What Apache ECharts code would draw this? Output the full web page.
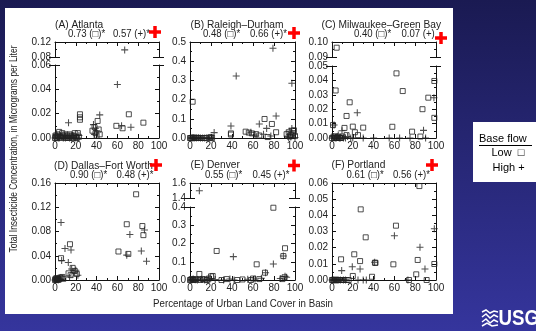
<!DOCTYPE html>
<html><head><meta charset="utf-8">
<script src="https://cdn.jsdelivr.net/npm/echarts@6/dist/echarts.min.js"></script>
<style>html,body{margin:0;padding:0;background:#1b1b56;}#c{width:536px;height:331px;}</style>
</head><body><div id="c"></div>
<script>
// ---------------- DATA ----------------
const xTicks = [0, 20, 40, 60, 80, 100];
const panelTitles = ['(A) Atlanta', '(B) Raleigh\u2013Durham', '(C) Milwaukee\u2013Green Bay', '(D) Dallas\u2013Fort Worth', '(E) Denver', '(F) Portland'];
const lowCoef = ['0.73 (\u25a1)*', '0.48 (\u25a1)*', '0.40 (\u25a1)*', '0.90 (\u25a1)*', '0.55 (\u25a1)*', '0.61 (\u25a1)*'];
const highCoef = ['0.57 (+)*', '0.66 (+)*', '0.07 (+)', '0.48 (+)*', '0.45 (+)*', '0.56 (+)*'];
const xTitle = 'Percentage of Urban Land Cover in Basin';
const yTitle = 'Total Insecticide Concentration, in Micrograms per Liter';

// y ranges per panel: [min, max, interval] for lower segment and optional upper segment
const yLower = [[0, 0.06, 0.02], [0, 0.5, 0.1], [0, 0.05, 0.01], [0, 0.16, 0.04], [0, 0.4, 0.1], [0, 0.06, 0.01]];
const yUpper = [[0.08, 0.12, 0.04], null, [0.09, 0.10, 0.01], null, [1.4, 1.6, 0.2], null];
const yDecimals = [2, 1, 2, 2, 1, 2];

const atlantaLow = [[0,0],[0.5,0.002],[1,0.001],[2,0],[2.5,0.003],[3,0.002],[4,0.005],[5,0.001],[6,0],[7,0.004],[8,0.002],[9,0.001],[10,0.003],[11,0],[12,0.002],[13,0],[14,0.003],[15,0.001],[16,0.002],[17,0],[18,0.002],[19,0.004],[20,0.001],[21,0],[22,0.004],[23,0.001],[24,0.0195],[24,0.017],[24,0.015],[36,0.006],[38,0.009],[39,0.004],[40,0.002],[41,0.014],[42,0.007],[43,0.003],[59,0.010],[65,0.008],[71,0.0195],[85,0.0126]];
const atlantaHigh = [[0,0],[1,0.003],[2,0.001],[3,0],[4,0],[5,0.002],[6,0.001],[8,0],[9,0.002],[10,0],[12,0.001],[13,0.0126],[14,0],[16,0],[17,0.002],[18,0.001],[20,0],[22,0],[23,0.002],[37,0.011],[38,0.003],[39,0.008],[40,0.006],[43,0.019],[60,0.044],[64,0.010],[67,0.099],[73,0.0088]];
const raleighLow = [[0,0],[1,0],[2,0.001],[2.5,0.189],[3,0],[4,0.002],[5,0],[6,0],[7,0.001],[8,0],[9,0],[11,0],[13,0],[15,0],[19,0.002],[20,0.004],[21,0],[39,0.024],[39,0.018],[53,0.033],[56,0.028],[59,0.024],[63,0.02],[66,0.013],[71,0.099],[74,0.005],[78,0.073],[82,0.03],[92,0.02],[94,0.03],[95,0.008],[96,0.015],[98,0.025],[99,0.04],[100,0.01]];
const raleighHigh = [[1,0],[2,0],[3,0.001],[4,0],[6,0],[8,0.001],[10,0],[12,0],[14,0],[16,0.001],[18,0],[20,0.001],[23,0.028],[39,0.062],[44,0.323],[58,0.03],[62,0.015],[66,0.073],[70,0.02],[73,0.05],[77,0.01],[79,0.467],[82,0.115],[93,0.01],[94,0.002],[95,0.035],[96,0.005],[97,0.05],[97,0.285],[99,0.02],[100,0.003]];
const milwaukeeLow = [[0,0],[1,0.009],[1.5,0.001],[2,0],[3,0.001],[3.5,0.033],[4,0],[4.5,0.0962],[5,0],[6,0.001],[7,0],[8,0],[9,0],[10,0.001],[12,0.007],[14,0.0153],[14,0.002],[17,0.0248],[20,0.0079],[22,0.004],[25,0.002],[30,0.0072],[58,0.0078],[62,0.0449],[68,0.0326],[77,0.0044],[85,0.001],[87,0.020],[92.6,0.028],[98.4,0.0396],[98.4,0.014]];
const milwaukeeHigh = [[0,0],[1,0.001],[2,0.009],[3,0],[4,0],[5,0.001],[6,0.002],[7,0],[8,0],[9.6,0.005],[11,0],[13,0],[15,0.001],[18,0],[20,0],[24.3,0.0176],[30,0],[40,0],[55,0],[65,0],[75,0],[88,0.0053],[90,0],[98,0.028]];
const dallasLow = [[0,0],[0.5,0.002],[1,0.001],[1.5,0.003],[2,0],[2.5,0.001],[3,0.002],[4,0.001],[5,0.004],[5.8,0.036],[6,0.003],[7,0.005],[8,0.002],[13,0.011],[14.4,0.059],[15,0.008],[17,0.02],[19,0.015],[21,0.01],[61,0.047],[69,0.092],[70.5,0.043],[78,0.1414],[84,0.089],[85,0.074]];
const dallasHigh = [[0,0],[1,0.002],[2,0.001],[3,0],[4,0.003],[5,0.001],[5.8,0.095],[6.4,0.032],[9.6,0.052],[12.8,0.029],[14,0.005],[15.4,0.0495],[16,0.018],[18,0.012],[20,0.016],[22,0.008],[69,0.041],[72,0.075],[83,0.048],[86,0.0825],[88,0.031]];
const denverLow = [[0,0],[1,0.003],[2,0.005],[3,0],[4,0],[5,0.004],[6,0.003],[8.9,0.033],[10,0],[12,0.005],[14,0.003],[16,0],[18,0.008],[20,0.02],[21.6,0.022],[25.4,0.159],[30,0],[35,0.005],[45,0],[50,0.003],[58,0],[60,0.008],[63.5,0.086],[66,0.005],[71.4,0.04],[79.4,0.396],[88,0.005],[88.9,0.131],[90,0.015],[90.5,0.174]];
const denverHigh = [[1,0],[2,0.002],[3,0.005],[5,0.002],[7,0],[8.9,1.497],[11,0.004],[14,0],[17,0.002],[19,0.005],[24,0.003],[32,0],[38,0.005],[41.3,0.128],[42,0],[55,0.004],[62,0.006],[68,0.01],[72,0.04],[79.4,0.088],[86,0.008],[88.9,0.131],[90.5,0.02],[92,0.015]];
const portlandLow = [[0,0],[1,0],[2,0],[3,0],[4,0],[5,0],[6,0],[7,0],[8.7,0.0128],[9,0],[10,0],[12,0],[14,0],[16,0],[20,0.0025],[21.4,0.0159],[27,0.0117],[27.6,0.0437],[32.4,0.0264],[38.5,0.002],[41.3,0.0107],[41.8,0.0106],[59,0.0097],[61.5,0.0336],[74,0],[81,0.0035],[82.4,0.0124],[84,0.0581],[91,0],[98.4,0.0099]];
const portlandHigh = [[0,0],[1.5,0],[2,0],[3,0],[4,0],[5,0],[6,0],[8,0],[9.3,0.0058],[11,0],[13,0],[19.5,0.0082],[25,0],[27,0.0068],[30,0],[33,0],[41,0.011],[60,0.0274],[73,0],[84.6,0.0202],[89.4,0.0068],[98.4,0.0317]];

const lowSets = [atlantaLow, raleighLow, milwaukeeLow, dallasLow, denverLow, portlandLow];
const highSets = [atlantaHigh, raleighHigh, milwaukeeHigh, dallasHigh, denverHigh, portlandHigh];

// ---------------- LAYOUT ----------------
const FONT = "'Liberation Sans',Arial,sans-serif";
const TXT = '#222';
const boxes = [
  {x: 55, w: 104, lo: [65, 138], up: [42, 57], title: [55, 25], coef: [68, 113, 34], cross: [155, 32]},
  {x: 190, w: 105, lo: [42, 138], up: null, title: [190.5, 25], coef: [203, 250, 34], cross: [294, 33]},
  {x: 332, w: 104, lo: [66, 138], up: [42, 57], title: [321.5, 25], coef: [354, 401.5, 34], cross: [441, 38]},
  {x: 55, w: 104, lo: [183, 280], up: null, title: [54, 165.5], coef: [70, 116.5, 175], cross: [156, 165]},
  {x: 190, w: 105, lo: [207, 280], up: [183, 198], title: [190.5, 165], coef: [205, 252.5, 175], cross: [294, 165.5]},
  {x: 332, w: 104, lo: [183, 280], up: null, title: [331.5, 165], coef: [346.5, 393, 175], cross: [432, 165]}
];

const mctx = document.createElement('canvas').getContext('2d');
function fitScale(text, font, target) {
  mctx.font = font;
  const w = mctx.measureText(text).width;
  return w > 0 ? target / w : 1;
}
const TITLE_FONT = '11px ' + FONT, COEF_FONT = '10px ' + FONT;
const titleScale = fitScale(panelTitles[1], TITLE_FONT, 93);
const coefScale = fitScale(highCoef[1], COEF_FONT, 37);
function txt(text, x, y, font, s, opts) {
  return Object.assign({type: 'text', x: x, y: y, scaleX: s, z: 5, silent: true,
    style: {text: text, fill: TXT, font: font, verticalAlign: 'middle', align: 'left'}}, opts || {});
}

const grids = [], xAxes = [], yAxes = [], series = [], gfx = [];
const lineStyle = {color: '#111', width: 1};
const PLUS = 'path://M3.4,0H4.6V3.4H8V4.6H4.6V8H3.4V4.6H0V3.4H3.4Z';

boxes.forEach((b, p) => {
  const segs = [{rng: yLower[p], tb: b.lo, isBottom: true, isTop: !yUpper[p]}];
  if (yUpper[p]) segs.push({rng: yUpper[p], tb: b.up, isBottom: false, isTop: true});
  const dec = yDecimals[p];
  segs.forEach(s => {
    const gi = grids.length;
    grids.push({left: b.x, width: b.w, top: s.tb[0], height: s.tb[1] - s.tb[0]});
    const xb = xAxes.length;
    const mkX = (pos, show, labels) => ({
      gridIndex: gi, type: 'value', position: pos, min: xTicks[0], max: xTicks[xTicks.length - 1],
      interval: xTicks[1] - xTicks[0],
      axisLine: {show: show, onZero: false, lineStyle: lineStyle},
      axisTick: {show: show, inside: true, length: 4, lineStyle: lineStyle},
      minorTick: {show: show, splitNumber: 2, length: 2, lineStyle: {color: '#111'}},
      axisLabel: {show: labels, color: TXT, fontSize: 10, fontFamily: FONT, margin: 3},
      splitLine: {show: false}
    });
    xAxes.push(mkX('bottom', s.isBottom, s.isBottom));
    xAxes.push(mkX('top', s.isTop, false));
    const yb = yAxes.length;
    const mkY = (pos, labels) => ({
      gridIndex: gi, type: 'value', position: pos, min: s.rng[0], max: s.rng[1], interval: s.rng[2],
      axisLine: {show: true, onZero: false, lineStyle: lineStyle},
      axisTick: {show: true, inside: true, length: 4, lineStyle: lineStyle},
      minorTick: {show: true, splitNumber: 2, length: 2, lineStyle: {color: '#111'}},
      axisLabel: {show: labels, color: TXT, fontSize: 10, fontFamily: FONT, margin: 4,
        formatter: v => v.toFixed(dec)},
      splitLine: {show: false}
    });
    yAxes.push(mkY('left', true));
    yAxes.push(mkY('right', false));
    const inSeg = d => d[1] >= s.rng[0] - 1e-9 && d[1] <= s.rng[1] + 1e-9;
    series.push({
      type: 'scatter', xAxisIndex: xb, yAxisIndex: yb, symbol: 'rect', symbolSize: 5,
      itemStyle: {color: 'rgba(0,0,0,0)', borderColor: '#222', borderWidth: 1},
      data: lowSets[p].filter(inSeg), silent: true, clip: false
    });
    series.push({
      type: 'scatter', xAxisIndex: xb, yAxisIndex: yb, symbol: PLUS, symbolSize: 7,
      itemStyle: {color: '#222'}, data: highSets[p].filter(inSeg), silent: true, clip: false
    });
  });
  if (b.up) {
    [b.up[1], b.lo[0]].forEach(yy => {
      [b.x, b.x + b.w].forEach(xx => {
        gfx.push({type: 'line', shape: {x1: xx - 6, y1: yy + 0.5, x2: xx + 5, y2: yy + 0.5},
          style: {stroke: '#111', lineWidth: 1}, z: 5, silent: true});
      });
    });
  }
  gfx.push(txt(panelTitles[p], b.title[0], b.title[1], TITLE_FONT, titleScale));
  gfx.push(txt(lowCoef[p], b.coef[0], b.coef[2], COEF_FONT, coefScale));
  gfx.push(txt(highCoef[p], b.coef[1], b.coef[2], COEF_FONT, coefScale));
  gfx.push({type: 'rect', shape: {x: b.cross[0] - 6, y: b.cross[1] - 1.75, width: 12, height: 3.5}, style: {fill: '#ff0000'}, z: 6, silent: true});
  gfx.push({type: 'rect', shape: {x: b.cross[0] - 1.75, y: b.cross[1] - 6, width: 3.5, height: 12}, style: {fill: '#ff0000'}, z: 6, silent: true});
});

const yT = txt(yTitle, 14, 149, '11px ' + FONT, fitScale(yTitle, '11px ' + FONT, 207), {rotation: Math.PI / 2});
yT.style.align = 'center';
const xT = txt(xTitle, 243, 304, '11px ' + FONT, fitScale(xTitle, '11px ' + FONT, 180));
xT.style.align = 'center';

const bg = [
  {type: 'rect', shape: {x: 0, y: 0, width: 536, height: 331}, z: -20, silent: true,
    style: {fill: new echarts.graphic.LinearGradient(0, 0, 0, 1, [{offset: 0, color: '#1a1a52'}, {offset: 1, color: '#35359d'}])}},
  {type: 'rect', shape: {x: 5, y: 8, width: 448, height: 306}, z: -19, silent: true, style: {fill: '#ffffff'}},
  yT, xT,
  {type: 'rect', shape: {x: 473, y: 122, width: 63, height: 60}, z: -18, silent: true, style: {fill: '#ffffff'}},
  {type: 'text', x: 479, y: 139, z: 5, silent: true,
    style: {text: 'Base flow', fill: '#000', font: '11px ' + FONT, align: 'left', verticalAlign: 'middle'}},
  {type: 'line', shape: {x1: 479, y1: 145.5, x2: 532, y2: 145.5}, z: 5, silent: true, style: {stroke: '#000', lineWidth: 1}},
  {type: 'text', x: 491.5, y: 153, z: 5, silent: true,
    style: {text: 'Low  \u25a1', fill: '#000', font: '11px ' + FONT, align: 'left', verticalAlign: 'middle'}},
  {type: 'text', x: 492.5, y: 167.5, z: 5, silent: true,
    style: {text: 'High +', fill: '#000', font: '11px ' + FONT, align: 'left', verticalAlign: 'middle'}},
  {type: 'polyline', shape: {points: [[482, 312], [486, 310], [490, 313], [494, 311], [498, 312]]}, z: 5, silent: true, style: {stroke: '#fff', lineWidth: 1.5, fill: null}},
  {type: 'polyline', shape: {points: [[482, 317], [486, 314], [490, 318], [494, 315], [498, 317]]}, z: 5, silent: true, style: {stroke: '#fff', lineWidth: 1.5, fill: null}},
  {type: 'polyline', shape: {points: [[482, 322], [486, 319], [490, 323], [494, 320], [498, 322]]}, z: 5, silent: true, style: {stroke: '#fff', lineWidth: 1.5, fill: null}},
  {type: 'polyline', shape: {points: [[482, 326], [487, 323], [492, 326], [498, 325]]}, z: 5, silent: true, style: {stroke: '#fff', lineWidth: 1.5, fill: null}},
  {type: 'text', x: 498.5, y: 318.5, z: 5, silent: true, scaleX: 0.85,
    style: {text: 'USGS', fill: '#fff', font: 'bold 22px ' + FONT, align: 'left', verticalAlign: 'middle'}}
];

const chart = echarts.init(document.getElementById('c'), null, {renderer: 'canvas'});
chart.setOption({
  animation: false,
  grid: grids,
  xAxis: xAxes,
  yAxis: yAxes,
  series: series,
  graphic: {elements: bg.concat(gfx)}
});
</script></body></html>
